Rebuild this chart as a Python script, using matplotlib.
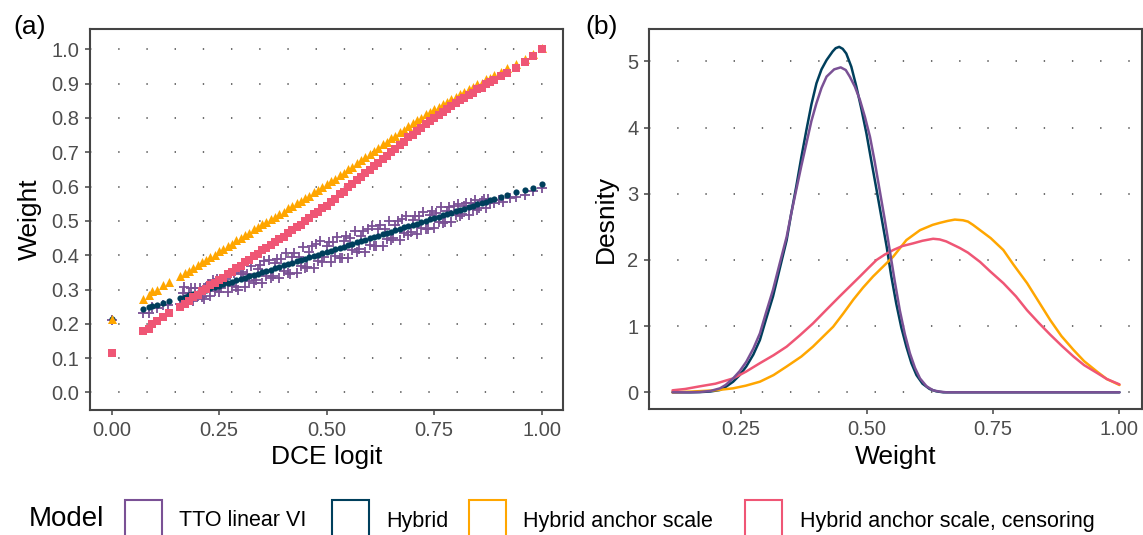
import matplotlib
matplotlib.use("Agg")
import matplotlib.pyplot as plt
from matplotlib.patches import Rectangle
from matplotlib.ticker import FormatStrFormatter

plt.rcParams['font.family'] = ['Liberation Sans', 'DejaVu Sans']
plt.rcParams['lines.scale_dashes'] = False

# ---- colours / labels ----
models = ["TTO linear VI", "Hybrid", "Hybrid anchor scale", "Hybrid anchor scale, censoring"]
colors = ["#7a5195", "#003f5c", "#ffa600", "#ef5675"]

# ---- panel (a): DCE logit vs weight ----
dce_logit = [0.0, 0.073, 0.087, 0.093, 0.106, 0.119, 0.133,
             0.16, 0.17, 0.18, 0.19, 0.20, 0.21, 0.22, 0.23, 0.24, 0.25,
             0.26, 0.27, 0.28, 0.29, 0.30, 0.31, 0.32, 0.33, 0.34, 0.35,
             0.36, 0.37, 0.38, 0.39, 0.40, 0.41, 0.42, 0.43, 0.44, 0.45,
             0.46, 0.47, 0.48, 0.49, 0.50, 0.51, 0.52, 0.53, 0.54, 0.55,
             0.56, 0.57, 0.58, 0.59, 0.60, 0.61, 0.62, 0.63, 0.64, 0.65,
             0.66, 0.67, 0.68, 0.69, 0.70, 0.71, 0.72, 0.73, 0.74, 0.75,
             0.76, 0.77, 0.78, 0.79, 0.80, 0.81, 0.82, 0.83, 0.84, 0.85,
             0.86, 0.87, 0.88, 0.89, 0.905, 0.92, 0.94, 0.96, 0.98, 1.0]

w_hybrid = [0.215, 0.242, 0.248, 0.252, 0.254, 0.262, 0.268,
            0.275, 0.279, 0.283, 0.287, 0.291, 0.295, 0.299, 0.303, 0.307, 0.311,
            0.315, 0.319, 0.323, 0.327, 0.331, 0.334, 0.338, 0.342, 0.346, 0.350,
            0.354, 0.358, 0.362, 0.366, 0.370, 0.374, 0.378, 0.382, 0.386, 0.390,
            0.394, 0.398, 0.402, 0.406, 0.410, 0.413, 0.417, 0.421, 0.425, 0.429,
            0.433, 0.437, 0.441, 0.445, 0.449, 0.453, 0.457, 0.461, 0.465, 0.469,
            0.473, 0.477, 0.481, 0.485, 0.489, 0.492, 0.496, 0.500, 0.504, 0.508,
            0.512, 0.516, 0.520, 0.524, 0.528, 0.532, 0.536, 0.540, 0.544, 0.548,
            0.552, 0.556, 0.560, 0.565, 0.570, 0.576, 0.583, 0.590, 0.597, 0.606]

w_anchor = [0.215, 0.272, 0.283, 0.296, 0.300, 0.312, 0.322,
            0.340, 0.349, 0.355, 0.364, 0.370, 0.379, 0.385, 0.395, 0.401, 0.411,
            0.417, 0.427, 0.433, 0.443, 0.449, 0.459, 0.465, 0.475, 0.481, 0.491,
            0.497, 0.506, 0.512, 0.521, 0.527, 0.537, 0.542, 0.552, 0.557, 0.567,
            0.573, 0.583, 0.590, 0.600, 0.606, 0.617, 0.623, 0.634, 0.640, 0.651,
            0.658, 0.669, 0.676, 0.687, 0.694, 0.705, 0.712, 0.723, 0.730, 0.741,
            0.748, 0.759, 0.766, 0.777, 0.784, 0.794, 0.800, 0.810, 0.816, 0.826,
            0.832, 0.841, 0.847, 0.856, 0.862, 0.871, 0.876, 0.885, 0.889, 0.898,
            0.903, 0.912, 0.917, 0.926, 0.935, 0.946, 0.958, 0.972, 0.987, 1.004]

w_censor = [0.114, 0.179, 0.186, 0.199, 0.207, 0.221, 0.231,
            0.250, 0.259, 0.267, 0.277, 0.284, 0.295, 0.301, 0.312, 0.318, 0.329,
            0.335, 0.346, 0.352, 0.363, 0.369, 0.380, 0.386, 0.397, 0.403, 0.414,
            0.420, 0.431, 0.437, 0.448, 0.454, 0.465, 0.472, 0.483, 0.489, 0.500,
            0.507, 0.519, 0.526, 0.537, 0.544, 0.556, 0.564, 0.577, 0.585, 0.598,
            0.606, 0.619, 0.627, 0.640, 0.648, 0.660, 0.669, 0.681, 0.689, 0.701,
            0.709, 0.722, 0.730, 0.743, 0.751, 0.763, 0.771, 0.782, 0.790, 0.801,
            0.808, 0.818, 0.825, 0.835, 0.842, 0.852, 0.858, 0.868, 0.873, 0.883,
            0.888, 0.898, 0.904, 0.911, 0.921, 0.931, 0.945, 0.963, 0.980, 1.000]

tto_logit = [0.0, 0.073, 0.087, 0.093, 0.106, 0.119, 0.131, 0.16, 0.169,
             0.165, 0.185, 0.205, 0.225, 0.245, 0.265, 0.285, 0.305, 0.325, 0.345,
             0.365, 0.385, 0.405, 0.425, 0.445, 0.465, 0.485, 0.505, 0.525, 0.545,
             0.565, 0.585, 0.605, 0.625, 0.645, 0.665, 0.685, 0.705, 0.725, 0.745,
             0.765, 0.785, 0.805, 0.825, 0.845, 0.865,
             0.17, 0.19, 0.21, 0.23, 0.25, 0.27, 0.29, 0.31, 0.33, 0.35,
             0.37, 0.39, 0.41, 0.43, 0.45, 0.47, 0.49, 0.51, 0.53, 0.55,
             0.57, 0.59, 0.61, 0.63, 0.65, 0.67, 0.69, 0.71, 0.73, 0.75,
             0.77, 0.79, 0.81, 0.83, 0.85, 0.87,
             0.18, 0.20, 0.22, 0.24, 0.26, 0.28, 0.30, 0.32, 0.34, 0.36,
             0.38, 0.40, 0.42, 0.44, 0.46, 0.48, 0.50, 0.52, 0.54, 0.56,
             0.58, 0.60, 0.62, 0.64, 0.66, 0.68, 0.70, 0.72, 0.74, 0.76,
             0.78, 0.80, 0.82, 0.84, 0.86, 0.88,
             0.175, 0.195, 0.215, 0.235, 0.255, 0.275, 0.295, 0.315, 0.335, 0.355,
             0.375, 0.395, 0.415, 0.435, 0.455, 0.475, 0.495, 0.515, 0.535, 0.555,
             0.575, 0.595, 0.615, 0.635, 0.655, 0.675, 0.695, 0.715, 0.735, 0.755,
             0.775, 0.795, 0.815, 0.835, 0.855, 0.875,
             0.89, 0.90, 0.91, 0.925, 0.94, 0.96, 0.98, 1.0]

w_tto = [0.212, 0.233, 0.233, 0.250, 0.245, 0.256, 0.255, 0.258, 0.306,
         0.289, 0.303, 0.303, 0.317, 0.331, 0.331, 0.349, 0.352, 0.368, 0.370,
         0.386, 0.389, 0.405, 0.407, 0.423, 0.426, 0.440, 0.439, 0.453, 0.457,
         0.471, 0.470, 0.484, 0.488, 0.501, 0.501, 0.514, 0.515, 0.526, 0.528,
         0.539, 0.540, 0.550, 0.553, 0.562, 0.564,
         0.264, 0.267, 0.279, 0.281, 0.293, 0.294, 0.307, 0.307, 0.320, 0.320,
         0.334, 0.334, 0.348, 0.348, 0.362, 0.363, 0.379, 0.380, 0.393, 0.393,
         0.408, 0.410, 0.426, 0.428, 0.443, 0.445, 0.460, 0.461, 0.476, 0.479,
         0.494, 0.498, 0.513, 0.518, 0.532, 0.538,
         0.289, 0.281, 0.308, 0.295, 0.326, 0.310, 0.345, 0.324, 0.359, 0.338,
         0.377, 0.353, 0.395, 0.368, 0.410, 0.383, 0.428, 0.397, 0.442, 0.414,
         0.457, 0.429, 0.475, 0.447, 0.488, 0.464, 0.503, 0.480, 0.516, 0.498,
         0.530, 0.516, 0.544, 0.534, 0.558, 0.552,
         0.275, 0.303, 0.273, 0.327, 0.303, 0.347, 0.299, 0.344, 0.328, 0.382,
         0.338, 0.388, 0.344, 0.396, 0.366, 0.432, 0.394, 0.439, 0.393, 0.449,
         0.419, 0.477, 0.427, 0.477, 0.449, 0.505, 0.469, 0.514, 0.476, 0.522,
         0.498, 0.542, 0.520, 0.552, 0.538, 0.564,
         0.552, 0.560, 0.556, 0.566, 0.570, 0.576, 0.588, 0.595]

# ---- panel (b): density of weights ----
dens_x_tto = [0.115, 0.15, 0.169, 0.19, 0.209, 0.22, 0.235, 0.248, 0.261, 0.275,
              0.288, 0.30, 0.314, 0.327, 0.341, 0.35, 0.360, 0.37, 0.380, 0.39,
              0.400, 0.41, 0.420, 0.435, 0.448, 0.458, 0.466, 0.476, 0.486, 0.496,
              0.506, 0.515, 0.525, 0.535, 0.545, 0.555, 0.565, 0.575, 0.585, 0.595,
              0.605, 0.618, 0.631, 0.644, 0.657, 0.70, 0.80, 0.90, 1.0]
dens_tto = [0.0, 0.0, 0.005, 0.02, 0.06, 0.11, 0.21, 0.32, 0.46, 0.66,
            0.89, 1.2, 1.55, 1.94, 2.35, 2.7, 3.06, 3.42, 3.76, 4.1,
            4.37, 4.6, 4.77, 4.88, 4.91, 4.87, 4.77, 4.62, 4.42, 4.16,
            3.86, 3.5, 3.06, 2.62, 2.15, 1.68, 1.24, 0.88, 0.59, 0.37,
            0.21, 0.09, 0.03, 0.01, 0.0, 0.0, 0.0, 0.0, 0.0]

dens_x_hyb = [0.115, 0.15, 0.169, 0.19, 0.209, 0.22, 0.235, 0.248, 0.261, 0.275,
              0.288, 0.30, 0.314, 0.327, 0.341, 0.35, 0.360, 0.37, 0.380, 0.39,
              0.400, 0.41, 0.420, 0.432, 0.438, 0.445, 0.452, 0.459, 0.469, 0.479,
              0.489, 0.499, 0.509, 0.519, 0.529, 0.539, 0.548, 0.558, 0.568, 0.578,
              0.588, 0.598, 0.61, 0.624, 0.637, 0.651, 0.70, 0.80, 0.90, 1.0]
dens_hyb = [0.0, 0.0, 0.003, 0.012, 0.035, 0.08, 0.16, 0.26, 0.39, 0.57,
            0.79, 1.1, 1.45, 1.86, 2.30, 2.7, 3.11, 3.55, 3.96, 4.35,
            4.67, 4.88, 5.02, 5.15, 5.2, 5.22, 5.19, 5.12, 4.92, 4.62,
            4.28, 3.91, 3.48, 3.06, 2.63, 2.20, 1.76, 1.34, 0.98, 0.69,
            0.44, 0.26, 0.13, 0.05, 0.015, 0.0, 0.0, 0.0, 0.0, 0.0]

dens_x_anc = [0.115, 0.15, 0.20, 0.235, 0.26, 0.288, 0.315, 0.341, 0.37, 0.393,
              0.413, 0.433, 0.453, 0.473, 0.492, 0.512, 0.532, 0.552, 0.578, 0.605,
              0.63, 0.644, 0.66, 0.674, 0.69, 0.70, 0.71, 0.724, 0.745, 0.77,
              0.79, 0.817, 0.84, 0.863, 0.885, 0.909, 0.93, 0.956, 0.975, 1.0]
dens_anc = [0.0, 0.01, 0.03, 0.06, 0.10, 0.16, 0.26, 0.39, 0.54, 0.69,
            0.84, 0.99, 1.19, 1.40, 1.58, 1.75, 1.90, 2.05, 2.30, 2.45,
            2.53, 2.56, 2.59, 2.61, 2.60, 2.58, 2.53, 2.45, 2.33, 2.15,
            1.93, 1.65, 1.37, 1.09, 0.85, 0.64, 0.47, 0.31, 0.20, 0.11]

dens_x_cen = [0.115, 0.14, 0.169, 0.20, 0.235, 0.26, 0.288, 0.315, 0.341, 0.367,
              0.393, 0.42, 0.446, 0.466, 0.486, 0.503, 0.519, 0.535, 0.552, 0.57,
              0.591, 0.61, 0.631, 0.644, 0.657, 0.684, 0.70, 0.724, 0.745, 0.77,
              0.795, 0.817, 0.84, 0.863, 0.886, 0.909, 0.93, 0.956, 0.975, 1.0]
dens_cen = [0.03, 0.05, 0.09, 0.13, 0.21, 0.31, 0.44, 0.56, 0.69, 0.86,
            1.04, 1.25, 1.45, 1.60, 1.75, 1.88, 2.0, 2.08, 2.15, 2.21,
            2.25, 2.29, 2.32, 2.31, 2.28, 2.18, 2.11, 1.97, 1.82, 1.65,
            1.45, 1.24, 1.05, 0.87, 0.70, 0.54, 0.41, 0.29, 0.20, 0.12]

W, H = 1143, 535
fig = plt.figure(figsize=(W / 100, H / 100), dpi=100)


def px_axes(left, top, right, bottom):
    return fig.add_axes([left / W, 1 - bottom / H, (right - left) / W, (bottom - top) / H])


def style(ax):
    for sp in ax.spines.values():
        sp.set_color("#444444")
        sp.set_linewidth(1.5)
    ax.tick_params(direction="out", length=3.8, width=1.1, color="#444444",
                   labelsize=14.5, labelcolor="#4d4d4d", pad=4)
    ax.set_axisbelow(True)
    ax.yaxis.grid(True, color="#555555", linewidth=1.2, linestyle=(0, (1.0, 19.3)))
    ax.xaxis.grid(False)


ax_a = px_axes(90, 29, 563.3, 410)
ax_b = px_axes(649.3, 29, 1141.7, 409.3)

# panel a
ax_a.scatter(tto_logit, w_tto, marker="+", s=52, c=colors[0], linewidths=1.3, zorder=2)
ax_a.scatter(dce_logit, w_hybrid, marker="o", s=20, c=colors[1], linewidths=0, zorder=3)
ax_a.scatter(dce_logit, w_anchor, marker="^", s=42, c=colors[2], linewidths=0, zorder=4)
ax_a.scatter(dce_logit, w_censor, marker="s", s=28, c=colors[3], linewidths=0, zorder=5)
ax_a.set_xlim(-0.05, 1.05)
ax_a.set_ylim(-0.051, 1.059)
ax_a.set_xticks([0, 0.25, 0.5, 0.75, 1.0])
ax_a.set_yticks([i / 10 for i in range(11)])
ax_a.xaxis.set_major_formatter(FormatStrFormatter("%.2f"))
ax_a.yaxis.set_major_formatter(FormatStrFormatter("%.1f"))
style(ax_a)
ax_a.set_xlabel("DCE logit", fontsize=19, labelpad=4)
ax_a.set_ylabel("Weight", fontsize=19, labelpad=7)

# panel b
line_kw = dict(lw=1.8, zorder=3, solid_joinstyle="round", solid_capstyle="round")
ax_b.plot(dens_x_hyb, dens_hyb, color=colors[1], **line_kw)
ax_b.plot(dens_x_anc, dens_anc, color=colors[2], **line_kw)
ax_b.plot(dens_x_cen, dens_cen, color=colors[3], **line_kw)
ax_b.plot(dens_x_tto, dens_tto, color=colors[0], **line_kw)
ax_b.set_xlim(0.069, 1.044)
ax_b.set_ylim(-0.257, 5.49)
ax_b.set_xticks([0.25, 0.5, 0.75, 1.0])
ax_b.set_yticks(range(6))
ax_b.xaxis.set_major_formatter(FormatStrFormatter("%.2f"))
style(ax_b)
ax_b.set_xlabel("Weight", fontsize=19, labelpad=4)
ax_b.set_ylabel("Desnity", fontsize=19, labelpad=7)

fig.text(13 / W, 1 - 27 / H, "(a)", fontsize=19, va="center", ha="left")
fig.text(585 / W, 1 - 27 / H, "(b)", fontsize=19, va="center", ha="left")

# legend drawn along the bottom
fig.text(29 / W, 1 - 519 / H, "Model", fontsize=20, va="center", ha="left")
key_x = [125, 332, 469, 745]
text_x = [179, 386, 523, 800]
for kx, tx, lab, col in zip(key_x, text_x, models, colors):
    fig.add_artist(Rectangle((kx / W, (H - 545) / H), 37 / W, 45 / H,
                             transform=fig.transFigure, fill=False,
                             edgecolor=col, linewidth=1.5, clip_on=False))
    fig.text(tx / W, 1 - 521 / H, lab, fontsize=15.5, va="center", ha="left")

fig.savefig("out.png", dpi=100)
